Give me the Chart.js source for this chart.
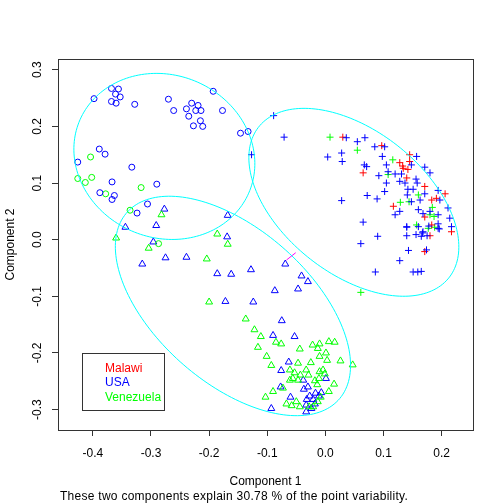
<!DOCTYPE html>
<html>
<head>
<meta charset="utf-8">
<script src="https://cdn.jsdelivr.net/npm/chart.js@4.4.0/dist/chart.umd.min.js"></script>
<style>
  html, body { margin: 0; padding: 0; background: #fff; }
  canvas { display: block; }
</style>
</head>
<body>
<canvas id="c" width="504" height="504"></canvas>
<script>
const countries = ["Malawi", "USA", "Venezuela"];
const countryColors = ["#ff0000", "#0000ff", "#00ff00"];
const xTicks = [-0.4, -0.3, -0.2, -0.1, 0.0, 0.1, 0.2];
const yTicks = [-0.3, -0.2, -0.1, 0.0, 0.1, 0.2, 0.3];
const footerText = "These two components explain 30.78 % of the point variability.";

// cluster 1 (circles)
const usaCircle = [
  [-0.398,0.249],[-0.368,0.267],[-0.356,0.266],[-0.361,0.257],[-0.353,0.252],[-0.368,0.244],
  [-0.360,0.241],[-0.328,0.239],[-0.270,0.248],[-0.261,0.228],[-0.239,0.231],[-0.230,0.241],
  [-0.219,0.237],[-0.223,0.228],[-0.214,0.228],[-0.235,0.218],[-0.215,0.210],[-0.227,0.201],
  [-0.211,0.200],[-0.193,0.262],[-0.177,0.228],[-0.146,0.188],[-0.133,0.191],[-0.389,0.160],
  [-0.379,0.151],[-0.426,0.137],[-0.333,0.128],[-0.367,0.102],[-0.290,0.098],[-0.388,0.083],
  [-0.363,0.078],[-0.367,0.071],[-0.306,0.063],[-0.324,0.047]
];
const venCircle = [
  [-0.404,0.146],[-0.426,0.108],[-0.413,0.101],[-0.402,0.110],[-0.378,0.081],[-0.317,0.092],
  [-0.336,0.052],[-0.287,-0.007]
];

// cluster 2 (crosses)
const usaCross = [
  [-0.089,0.219],[-0.071,0.181],[-0.127,0.150],[0.036,0.180],[0.068,0.180],[0.055,0.173],
  [0.028,0.153],[0.004,0.146],[0.029,0.138],[0.028,0.069],[0.065,0.031],[0.090,0.006],
  [0.061,-0.007],[0.072,0.078],[0.089,0.072],[0.086,-0.057],[0.128,-0.037],[0.143,-0.019],
  [0.140,0.007],[0.151,-0.057],[0.159,-0.057],[0.165,-0.056],[0.174,-0.018],
  [0.085,0.164],[0.102,0.164],[0.098,0.147],[0.067,0.132],[0.071,0.129],[0.105,0.132],
  [0.092,0.113],[0.108,0.120],[0.120,0.116],[0.131,0.116],[0.128,0.103],[0.105,0.100],
  [0.137,0.100],[0.157,0.147],[0.148,0.132],[0.171,0.128],[0.180,0.118],[0.156,0.107],
  [0.158,0.100],[0.102,0.085],[0.142,0.089],[0.151,0.089],[0.141,0.079],[0.171,0.081],
  [0.194,0.087],[0.197,0.070],[0.163,0.070],[0.148,0.067],[0.128,0.050],[0.120,0.044],
  [0.160,0.053],[0.168,0.046],[0.180,0.050],[0.194,0.044],[0.211,0.056],[0.214,0.038],
  [0.217,0.023],[0.140,0.023],[0.160,0.023],[0.168,0.014],[0.194,0.020],[0.165,0.006],
  [0.140,0.022],[0.156,0.009],[0.167,0.012],[0.175,0.007],[0.194,0.028],[0.196,0.019],
  [0.178,0.024]
];
const malawiCross = [
  [0.030,0.181],[0.097,0.166],[0.145,0.150],[0.128,0.136],[0.145,0.138],[0.142,0.124],
  [0.134,0.126],[0.065,0.118],[0.140,0.109],[0.171,0.094],[0.206,0.081],[0.183,0.070],
  [0.191,0.073],[0.117,0.059],[0.171,0.040],[0.180,0.007],[0.217,0.014],[0.171,-0.021],
  [0.183,0.026],[0.133,0.130]
];
const venCross = [
  [0.008,0.181],[0.055,0.158],[0.116,0.141],[0.108,0.115],[0.129,0.066],[0.144,0.067],
  [0.160,0.079],[0.184,0.057],[0.180,0.044],[0.187,0.041],[0.157,0.026],[0.177,0.020],
  [0.188,0.022],[0.061,-0.093]
];

// cluster 3 (triangles)
const usaTri = [
  [-0.277,0.054],[-0.168,0.043],[-0.344,0.022],[-0.291,0.025],[-0.296,-0.004],[-0.169,0.005],
  [-0.315,-0.043],[-0.275,-0.032],[-0.239,-0.031],[-0.186,-0.060],[-0.162,-0.061],[-0.128,-0.053],
  [-0.069,-0.043],[-0.041,-0.064],[-0.030,-0.074],[-0.087,-0.090],[-0.047,-0.087],[-0.172,-0.109],
  [-0.124,-0.110],[-0.075,-0.143],[-0.090,-0.169],[-0.053,-0.171],[-0.063,-0.216],[-0.076,-0.231],
  [-0.093,-0.298],[-0.038,-0.248],[0.001,-0.245],[-0.077,-0.260],[-0.037,-0.264],[-0.030,-0.260],
  [-0.017,-0.271],[-0.007,-0.270],[-0.027,-0.276],[-0.032,-0.282],[-0.021,-0.282],[-0.011,-0.276],
  [-0.060,-0.278],[-0.033,-0.292],[-0.018,-0.290],[-0.033,-0.304],[-0.024,-0.298]
];
const venTri = [
  [-0.282,0.044],[-0.360,0.003],[-0.304,-0.015],[-0.186,0.010],[-0.168,-0.008],[-0.204,-0.034],
  [-0.200,-0.110],[-0.137,-0.140],[-0.122,-0.159],[-0.111,-0.171],[-0.085,-0.181],[-0.076,-0.184],
  [-0.116,-0.190],[-0.101,-0.206],[-0.044,-0.193],[-0.093,-0.222],[-0.103,-0.278],[-0.090,-0.268],
  [-0.073,-0.262],[0.026,-0.214],[0.047,-0.221],[0.015,-0.255],[-0.022,-0.186],[-0.010,-0.184],
  [0.006,-0.180],[0.016,-0.181],[-0.013,-0.192],[0.001,-0.200],[-0.010,-0.206],[0.003,-0.213],
  [-0.025,-0.217],[-0.047,-0.218],[-0.061,-0.230],[-0.053,-0.235],[-0.043,-0.239],[-0.033,-0.230],
  [-0.029,-0.239],[-0.056,-0.245],[-0.047,-0.248],[-0.018,-0.249],[-0.011,-0.245],[-0.010,-0.233],
  [-0.004,-0.230],[-0.001,-0.237],[-0.014,-0.256],[0.006,-0.268],[-0.067,-0.290],[-0.058,-0.293],
  [-0.044,-0.295],[-0.050,-0.286],[-0.013,-0.286],[-0.008,-0.278],[-0.028,-0.295],[-0.021,-0.295],
  [-0.061,-0.248]
];

// cluster ellipses: centre, semi-axes (data units), tilt in degrees
const ellipseCx = [-0.277, 0.049, -0.159];
const ellipseCy = [0.147, 0.066, -0.117];
const ellipseA = [0.159, 0.211, 0.246];
const ellipseB = [0.143, 0.125, 0.134];
const ellipseTilt = [-27.7, -39.9, -42.7];

// line joining cluster 2 and cluster 3
const linkSegment = [[-0.067, -0.036], [-0.051, -0.023]];

const toXY = (arr) => arr.map(([x, y]) => ({ x, y }));

Chart.defaults.font.family = "'Liberation Sans', Arial, sans-serif";
Chart.defaults.font.size = 12;
Chart.defaults.color = "#000";

const pts = (label, data, style, color, r) => ({
  type: "scatter",
  label,
  data: toXY(data),
  pointStyle: style,
  pointRadius: r,
  pointHoverRadius: r,
  borderColor: color,
  backgroundColor: "rgba(0,0,0,0)",
  pointBorderWidth: 1,
  showLine: false,
});

const ellipsePlugin = {
  id: "ellipses",
  afterDatasetsDraw(chart) {
    const { ctx, scales: { x, y } } = chart;
    ctx.save();
    ctx.strokeStyle = "#00ffff";
    ctx.lineWidth = 1;
    for (let i = 0; i < ellipseCx.length; i++) {
      const phi = (ellipseTilt[i] * Math.PI) / 180;
      ctx.beginPath();
      for (let k = 0; k <= 180; k++) {
        const t = (k / 180) * 2 * Math.PI;
        const ex = ellipseA[i] * Math.cos(t), ey = ellipseB[i] * Math.sin(t);
        const dx = ellipseCx[i] + ex * Math.cos(phi) - ey * Math.sin(phi);
        const dy = ellipseCy[i] + ex * Math.sin(phi) + ey * Math.cos(phi);
        const px = x.getPixelForValue(dx), py = y.getPixelForValue(dy);
        if (k === 0) ctx.moveTo(px, py); else ctx.lineTo(px, py);
      }
      ctx.stroke();
    }
    ctx.restore();
  },
};

const framePlugin = {
  id: "frame",
  afterDraw(chart) {
    const { ctx, chartArea: a } = chart;
    ctx.save();
    ctx.strokeStyle = "#333";
    ctx.lineWidth = 1;
    ctx.strokeRect(a.left + 0.5, a.top + 0.5, a.right - a.left, a.bottom - a.top);

    // legend box
    ctx.strokeRect(82.5, 353.5, 82, 57);
    ctx.textBaseline = "middle";
    ctx.textAlign = "left";
    ctx.font = "12px 'Liberation Sans', Arial, sans-serif";
    countries.forEach((c, i) => {
      ctx.fillStyle = countryColors[i];
      ctx.fillText(c, 105, 368.5 + i * 14.5);
    });

    // footer note
    ctx.fillStyle = "#000";
    ctx.letterSpacing = "0.27px";
    ctx.fillText(footerText, 60, 497);
    ctx.restore();
  },
};

new Chart(document.getElementById("c"), {
  data: {
    datasets: [
      pts("USA", usaCircle, "circle", countryColors[1], 3),
      pts("Venezuela", venCircle, "circle", countryColors[2], 3),
      pts("USA", usaCross, "cross", countryColors[1], 3.5),
      pts("Malawi", malawiCross, "cross", countryColors[0], 3.5),
      pts("Venezuela", venCross, "cross", countryColors[2], 3.5),
      pts("Venezuela", venTri, "triangle", countryColors[2], 4),
      pts("USA", usaTri, "triangle", countryColors[1], 4),
      {
        type: "line",
        label: "link",
        data: toXY(linkSegment),
        borderColor: "#ff00ff",
        borderWidth: 1,
        pointRadius: 0,
        fill: false,
      },
    ],
  },
  options: {
    responsive: false,
    animation: false,
    events: [],
    layout: { padding: { top: 59, right: 31, left: 0, bottom: 0 } },
    plugins: { legend: { display: false }, tooltip: { enabled: false } },
    scales: {
      x: {
        type: "linear",
        min: -0.460,
        max: 0.254,
        afterBuildTicks: (s) => { s.ticks = xTicks.map((v) => ({ value: v })); },
        afterFit: (s) => { s.height = 74; },
        grid: { drawOnChartArea: false, drawTicks: true, tickLength: 6, color: "#333" },
        border: { display: true, color: "#333" },
        ticks: { padding: 10, maxRotation: 0, callback: (v) => v.toFixed(1) },
        title: { display: true, text: "Component 1", padding: { top: 0, bottom: 15.3 } },
      },
      y: {
        type: "linear",
        min: -0.336,
        max: 0.319,
        afterBuildTicks: (s) => { s.ticks = yTicks.map((v) => ({ value: v })); },
        afterFit: (s) => { s.width = 58; },
        grid: { drawOnChartArea: false, drawTicks: true, tickLength: 6, color: "#333" },
        border: { display: true, color: "#333" },
        ticks: { padding: 4, minRotation: 90, maxRotation: 90, crossAlign: "center", callback: (v) => v.toFixed(1) },
        title: { display: true, text: "Component 2", padding: { top: 3.3, bottom: 0 } },
      },
    },
  },
  plugins: [ellipsePlugin, framePlugin],
});
</script>
</body>
</html>
